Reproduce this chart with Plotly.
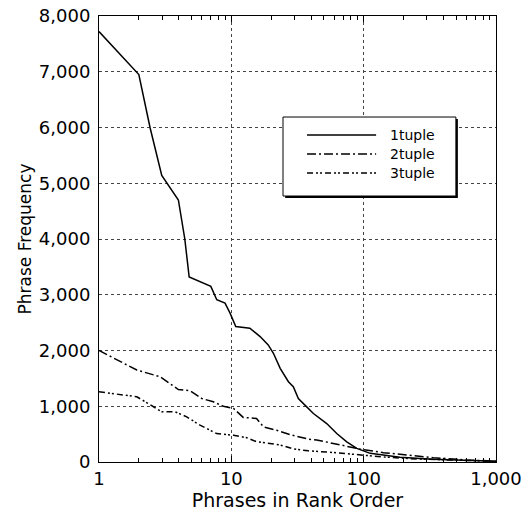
import plotly.graph_objects as go

# Data
rank_1tuple = [1, 2, 2.43, 2.98, 3.98, 4.45, 4.8, 7.0, 7.76, 8.96, 9.78, 10.8, 13.8, 16.5, 19.0,
               20.8, 23.4, 27, 29.4, 32.1, 36, 41.7, 52.6, 62.6, 74.5, 88.7, 112, 188, 333, 1000]
freq_1tuple = [7720, 6950, 6000, 5140, 4700, 4000, 3320, 3150, 2910, 2850, 2670, 2430, 2400, 2250, 2100,
               1950, 1680, 1440, 1350, 1140, 1020, 870, 690, 510, 360, 245, 155, 84, 48, 15]

rank_2tuple = [1, 1.93, 2.89, 3.98, 4.87, 5.97, 7.31, 8.7, 10.4, 12.3, 15.5, 17.5, 22, 27.8,
               38.2, 44.2, 70.3, 94, 141, 212, 336, 603, 1000]
freq_2tuple = [2000, 1650, 1530, 1300, 1280, 1140, 1080, 1000, 960, 800, 780, 630, 570, 490,
               410, 395, 295, 230, 167, 126, 78, 36, 15]

rank_3tuple = [1, 1.93, 2.43, 2.98, 3.76, 4.6, 5.8, 7.76, 10.4, 13.1, 15.5, 23.4, 29.4, 38.2,
               59, 94, 141, 251, 1000]
freq_3tuple = [1260, 1170, 1030, 900, 900, 810, 660, 510, 480, 435, 365, 305, 235, 200,
               170, 126, 90, 54, 12]

series_names = ["1tuple", "2tuple", "3tuple"]
series_dash = ["solid", "9px,3px,2px,3px", "6px,3px,2px,2px,2px,3px"]

x_tickvals = [1, 10, 100, 1000]
x_ticktext = ["1", "10", "100", "1,000"]
y_tickvals = [0, 1000, 2000, 3000, 4000, 5000, 6000, 7000, 8000]

FONT = "DejaVu Sans, Liberation Sans, Arial, sans-serif"

fig = go.Figure()
for xs, ys, name, dash in zip([rank_1tuple, rank_2tuple, rank_3tuple],
                              [freq_1tuple, freq_2tuple, freq_3tuple],
                              series_names, series_dash):
    fig.add_trace(go.Scatter(x=xs, y=ys, mode="lines", name=name,
                             line=dict(color="black", width=1.5, dash=dash),
                             showlegend=False))

fig.update_xaxes(type="log", range=[0, 3], tickvals=x_tickvals, ticktext=x_ticktext,
                 automargin=False,
                 showline=True, linecolor="black", linewidth=1, mirror="ticks",
                 ticks="inside", ticklen=6, tickcolor="black",
                 minor=dict(ticks="inside", ticklen=4, tickcolor="black", dtick="D1", showgrid=False),
                 showgrid=True, gridcolor="#444", gridwidth=1, griddash="dot",
                 zeroline=False, ticklabelstandoff=0,
                 tickfont=dict(size=18, color="black", family=FONT),
                 title=dict(text="Phrases in Rank Order", font=dict(size=19, color="black", family=FONT),
                            standoff=4))
fig.update_yaxes(range=[0, 8000], tickvals=y_tickvals, tickformat=",",
                 automargin=False,
                 showline=True, linecolor="black", linewidth=1, mirror=True,
                 ticks="", showgrid=True, gridcolor="#444", gridwidth=1, griddash="dot",
                 zeroline=False, ticklabelstandoff=4,
                 tickfont=dict(size=18, color="black", family=FONT),
                 title=dict(text="Phrase Frequency", font=dict(size=17, color="black", family=FONT),
                            standoff=2))

# Manual legend box (paper coordinates)
shapes = []
shapes.append(dict(type="rect", xref="paper", yref="paper", x0=0.469, x1=0.904, y0=0.592, y1=0.769,
                   line=dict(color="black", width=0), fillcolor="black", layer="above"))
shapes.append(dict(type="rect", xref="paper", yref="paper", x0=0.4635, x1=0.899, y0=0.5964, y1=0.7735,
                   line=dict(color="black", width=1), fillcolor="white", layer="above"))
rows_y = [0.7332, 0.6906, 0.648]
annotations = []
for ry, name, dash in zip(rows_y, series_names, series_dash):
    shapes.append(dict(type="line", xref="paper", yref="paper", x0=0.524, x1=0.698, y0=ry, y1=ry,
                       line=dict(color="black", width=1.5, dash=dash), layer="above"))
    annotations.append(dict(xref="paper", yref="paper", x=0.728, y=ry, text=name, showarrow=False,
                            xanchor="left", yanchor="middle",
                            font=dict(size=14, color="black", family=FONT)))

fig.update_layout(width=525, height=512, margin=dict(l=99, r=29, t=16, b=50),
                  plot_bgcolor="white", paper_bgcolor="white",
                  font=dict(family=FONT, color="black"),
                  shapes=shapes, annotations=annotations, showlegend=False)

fig.write_html("out.html")
